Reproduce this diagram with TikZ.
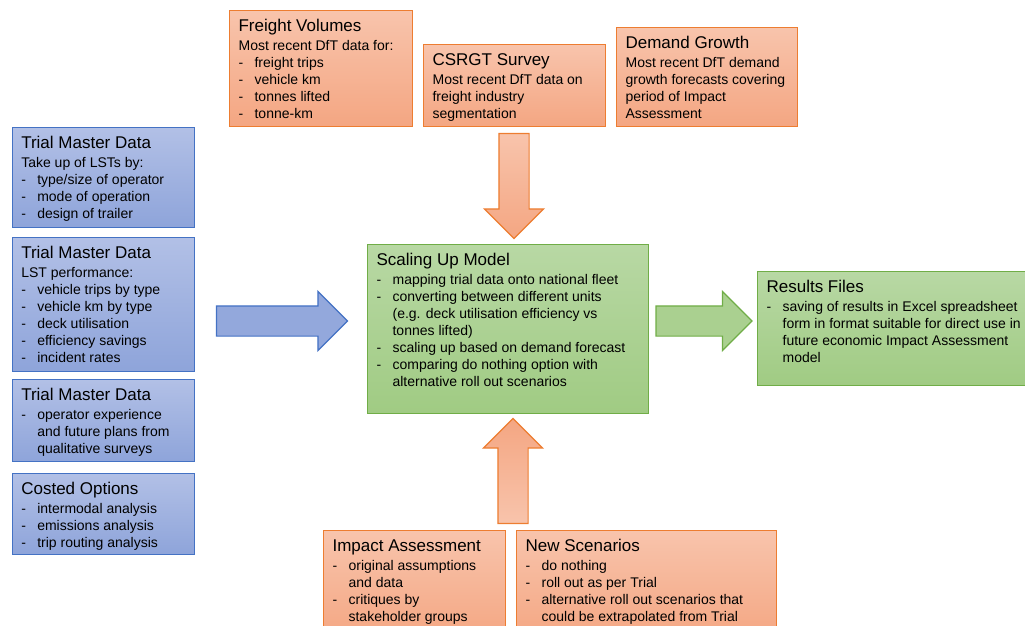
\documentclass[tikz,border=0pt]{standalone}
\usepackage{fontspec}
\setmainfont{Liberation Sans}
\usetikzlibrary{shapes.arrows}

\definecolor{blueline}{RGB}{68,114,196}
\definecolor{bluetop}{RGB}{178,192,230}
\definecolor{bluebot}{RGB}{142,164,218}
\definecolor{orangeline}{RGB}{237,125,49}
\definecolor{orangetop}{RGB}{248,196,172}
\definecolor{orangebot}{RGB}{244,166,130}
\definecolor{greenline}{RGB}{112,173,71}
\definecolor{greentop}{RGB}{184,216,164}
\definecolor{greenbot}{RGB}{160,203,131}

% text of one box: width, height, content
\newcommand{\card}[3]{\begin{minipage}[t][#2pt][t]{#1pt}\fontsize{14}{17}\selectfont
  \parindent=0pt\rightskip=0pt plus 1fil #3\end{minipage}}
\newcommand{\heading}[1]{{\fontsize{17}{20}\selectfont\rule{0pt}{21pt}#1\par}\vspace{1.5pt}}
\newcommand{\itm}[1]{\par\hangindent=16pt\hangafter=1\noindent\makebox[16pt][l]{-}#1\par}

\begin{document}
\begin{tikzpicture}[x=1pt, y=-1pt,
  card/.style={draw, line width=1.2pt, anchor=north west, inner xsep=9pt, inner ysep=0pt},
  bluecard/.style={card, draw=blueline, top color=bluetop, bottom color=bluebot},
  orangecard/.style={card, draw=orangeline, top color=orangetop, bottom color=orangebot},
  greencard/.style={card, draw=greenline, top color=greentop, bottom color=greenbot},
  flow/.style={single arrow, single arrow head extend=14.5pt, minimum width=58pt,
    inner xsep=0pt, inner ysep=14.5pt, line width=1.2pt}]
  \useasboundingbox (0,0) rectangle (1025,626);

  % trial inputs
  \node[bluecard] (tmdA) at (11.7,127) {\card{164}{100}{\heading{Trial Master Data}
    Take up of LSTs by:
    \itm{type/size of operator}
    \itm{mode of operation}
    \itm{design of trailer}}};
  \node[bluecard] (tmdB) at (11.7,237) {\card{164}{134}{\heading{Trial Master Data}
    LST performance:
    \itm{vehicle trips by type}
    \itm{vehicle km by type}
    \itm{deck utilisation}
    \itm{efficiency savings}
    \itm{incident rates}}};
  \node[bluecard] (tmdC) at (11.7,379) {\card{164}{82}{\heading{Trial Master Data}
    \itm{operator experience\\ and future plans from\\ qualitative surveys}}};
  \node[bluecard] (costed) at (11.7,473) {\card{164}{81}{\heading{Costed Options}
    \itm{intermodal analysis}
    \itm{emissions analysis}
    \itm{trip routing analysis}}};

  % national data
  \node[orangecard] (freight) at (229,10) {\card{165}{116}{\heading{Freight Volumes}
    Most recent DfT data for:
    \itm{freight trips}
    \itm{vehicle km}
    \itm{tonnes lifted}
    \itm{tonne-km}}};
  \node[orangecard] (csrgt) at (423,44) {\card{164}{82}{\heading{CSRGT Survey}
    Most recent DfT data on\\ freight industry\\ segmentation}};
  \node[orangecard] (demand) at (616,27) {\card{163}{99}{\heading{Demand Growth}
    Most recent DfT demand\\ growth forecasts covering\\ period of Impact\\ Assessment}};

  % model and output
  \node[greencard] (model) at (367,244) {\card{263}{169}{\heading{Scaling Up Model}
    \itm{mapping trial data onto national fleet}
    \itm{converting between different units\\ (e.g. deck utilisation efficiency vs\\ tonnes lifted)}
    \itm{scaling up based on demand forecast}
    \itm{comparing do nothing option with\\ alternative roll out scenarios}}};
  \node[greencard] (results) at (757,271) {\card{272}{114}{\heading{Results Files}
    \itm{saving of results in Excel spreadsheet\\ form in format suitable for direct use in\\ future economic Impact Assessment\\ model}}};

  % scenarios
  \node[orangecard] (impact) at (323,530) {\card{164}{110}{\heading{Impact Assessment}
    \itm{original assumptions\\ and data}
    \itm{critiques by\\ stakeholder groups}}};
  \node[orangecard] (scen) at (516,530) {\card{242}{110}{\heading{New Scenarios}
    \itm{do nothing}
    \itm{roll out as per Trial}
    \itm{alternative roll out scenarios that\\ could be extrapolated from Trial}}};

  % block arrows
  \node[flow, draw=blueline, fill=bluebot!85!bluetop, minimum height=131pt] (feedL) at (274.5,321) {};
  \node[flow, draw=greenline, fill=greenbot!60!greentop, minimum height=96pt] (feedR) at (696.5,321) {};
  \node[flow, draw=orangeline, top color=orangetop, bottom color=orangebot,
    minimum height=105pt, rotate=-90] (feedT) at (514,178.5) {};
  \node[flow, draw=orangeline, top color=orangebot, bottom color=orangetop,
    minimum height=105pt, rotate=90] (feedB) at (513,478.5) {};
\end{tikzpicture}
\end{document}
